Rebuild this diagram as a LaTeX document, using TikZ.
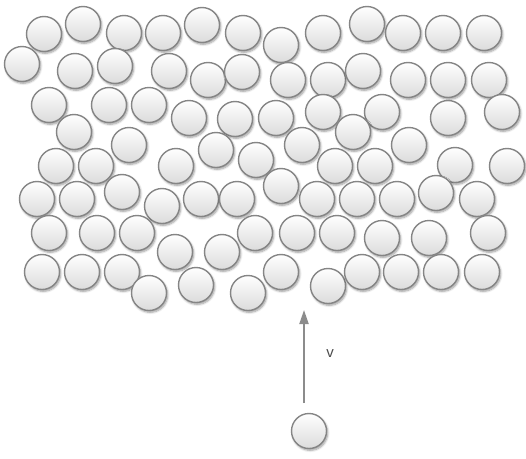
\documentclass[tikz,border=0pt]{standalone}
\usepackage{fontspec}
\setmainfont{Liberation Sans}
\usetikzlibrary{shadows.blur,arrows.meta}
\tikzset{
  ball/.style={circle, minimum size=35pt, inner sep=0pt, draw=black!48, line width=1.4pt,
    top color=white, bottom color=black!14,
    blur shadow={shadow xshift=1.2pt, shadow yshift=-1.8pt, shadow blur steps=6, shadow opacity=40}},
  vel/.style={draw=black!45, line width=2pt, -{Triangle[length=14pt,width=9pt]}},
  lbl/.style={font=\fontsize{15pt}{17pt}\selectfont, text=black!70}
}
\begin{document}
\begin{tikzpicture}[x=1pt,y=-1pt]
\useasboundingbox (0,0) rectangle (526,458);
\foreach [count=\i] \p in {
 (44,34),(83,24),(124,33),(163,33),(202,25),(243,33),(281,45),(323,33),(367,24),(403,33),(443,33),(484,33),
 (22,64),(75,71),(115,66),(169,71),(208,80),(242,72),(288,80),(328,80),(363,71),(408,80),(448,80),(489,80),
 (49,105),(109,105),(149,105),(189,118),(235,119),(276,118),(323,112),(382,112),(353,132),(448,118),(502,112),
 (74,132),(129,145),(216,150),(302,145),(409,145),
 (56,166),(96,166),(176,166),(256,160),(335,166),(375,166),(455,165),(507,166),
 (37,199),(77,199),(122,192),(162,206),(201,199),(237,199),(281,186),(317,199),(357,199),(397,199),(436,193),(477,199),
 (49,233),(97,233),(137,233),(175,252),(222,252),(255,233),(297,233),(337,233),(382,238),(429,238),(488,233),
 (42,272),(82,272),(122,272),(149,293),(196,285),(248,293),(281,272),(328,286),(362,272),(401,272),(441,272),(482,272)}
 {\node[ball] (c\i) at \p {};}
\node[ball] (proj) at (309,431) {};
\coordinate (vs) at (304,403);
\coordinate (ve) at (304,310);
\draw[vel] (vs) -- (ve);
\node[lbl] (v) at (330,354) {v};
\end{tikzpicture}
\end{document}
